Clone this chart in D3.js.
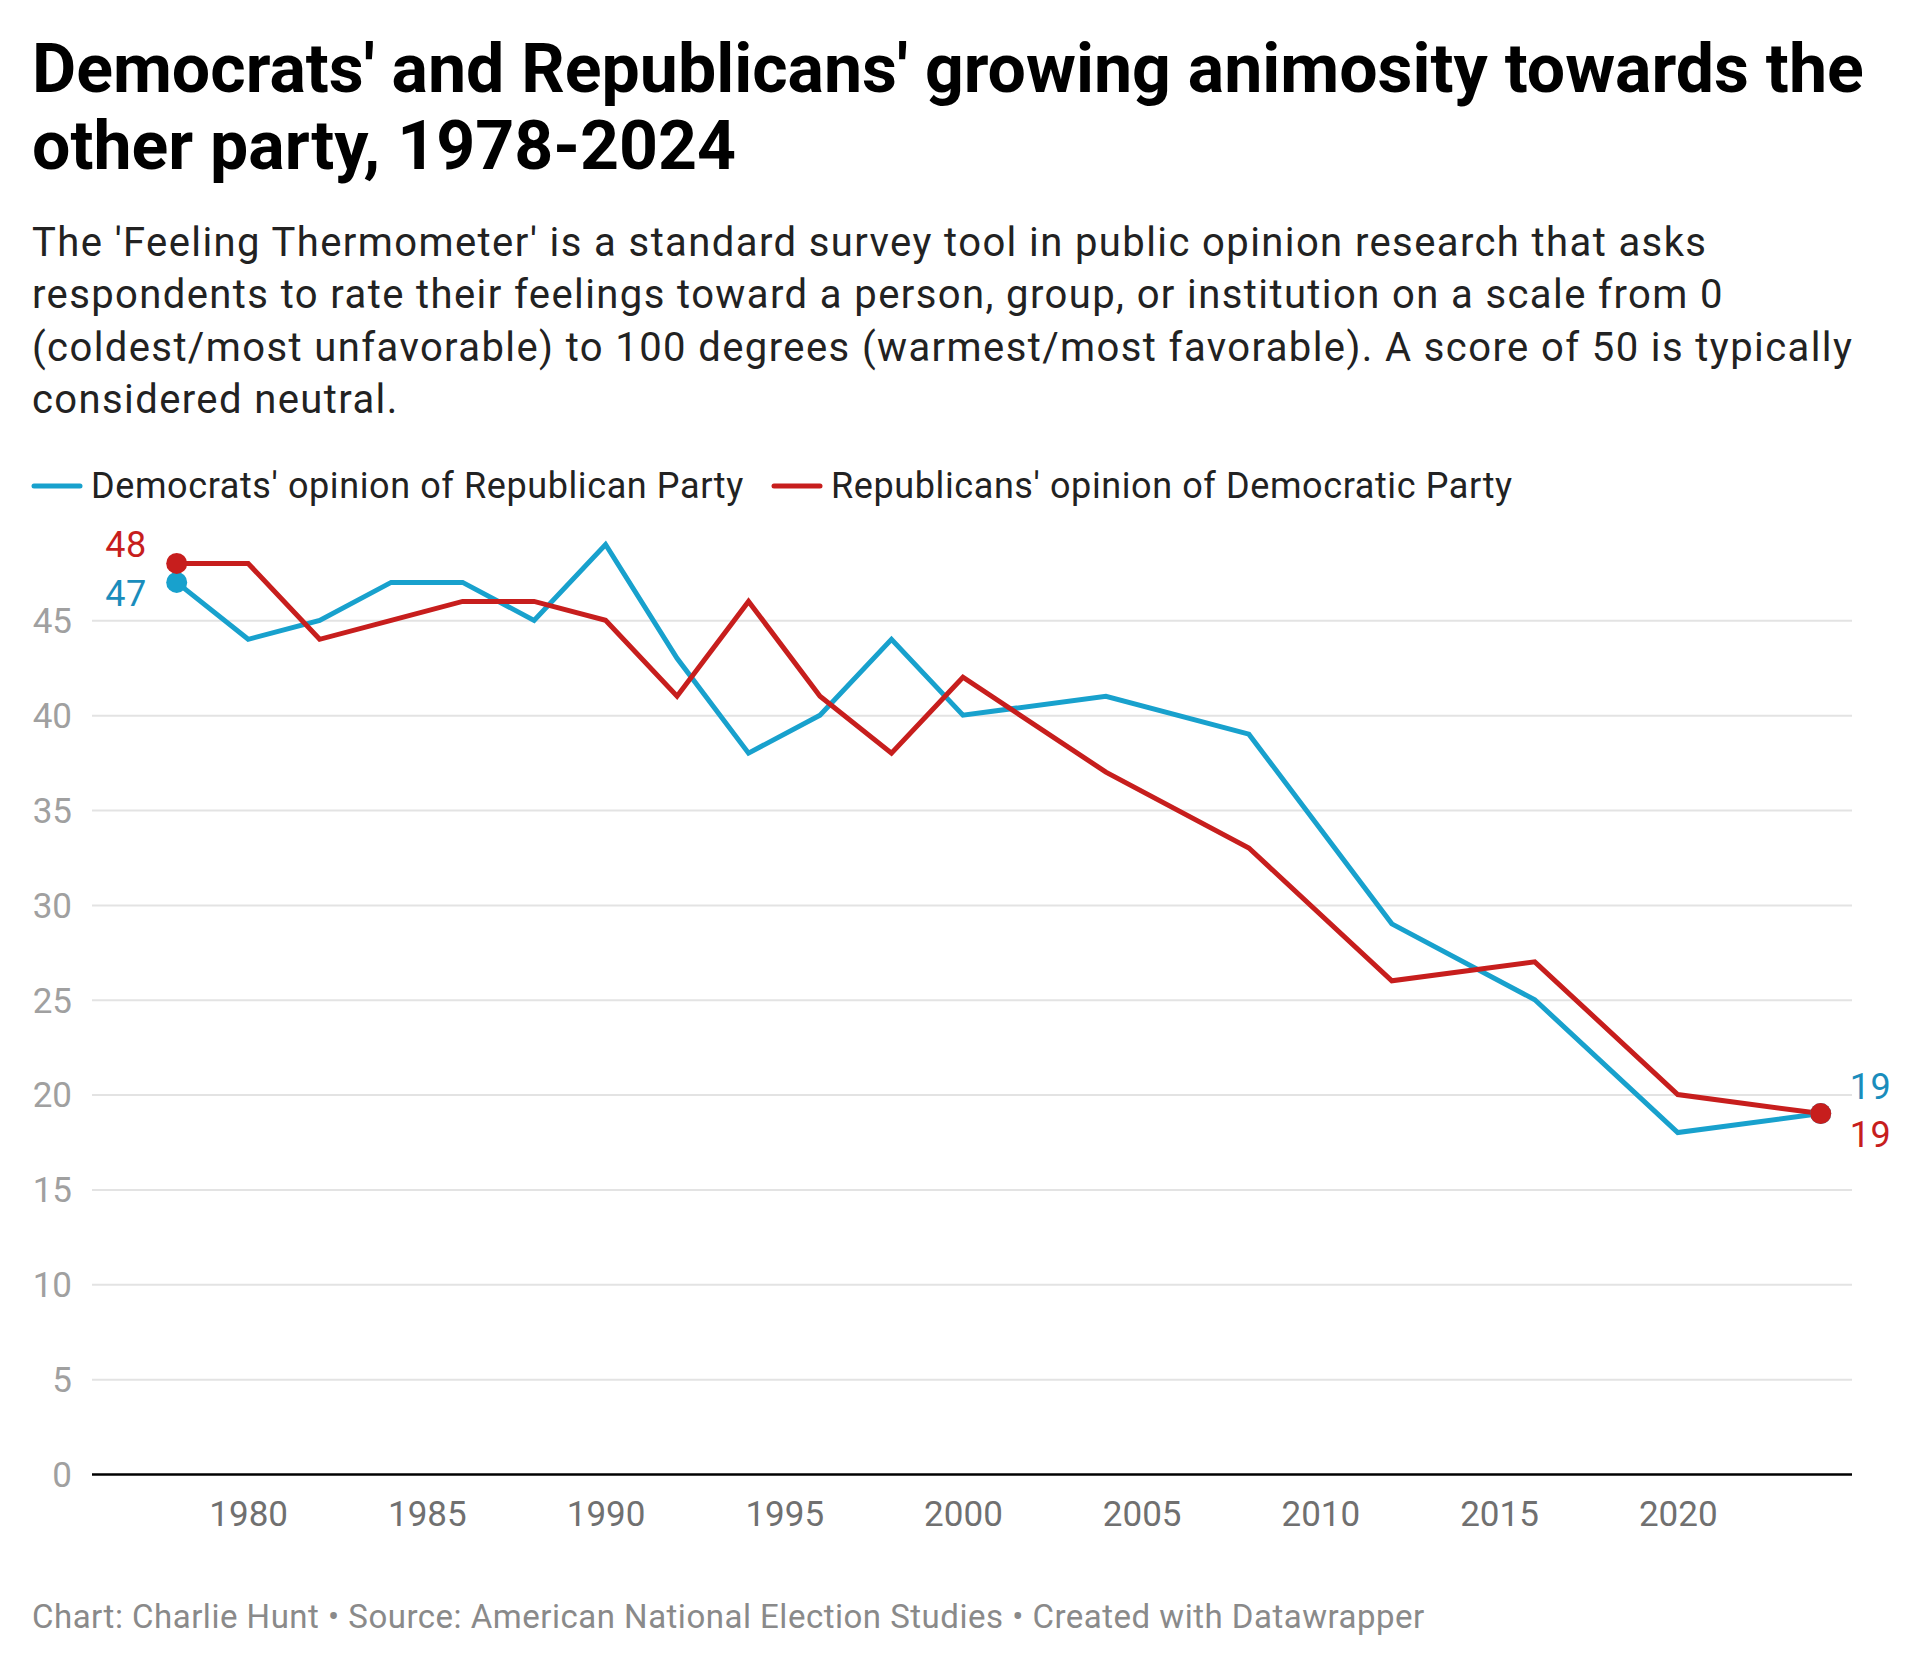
<!DOCTYPE html>
<html>
<head>
<meta charset="utf-8">
<script src="https://cdn.jsdelivr.net/npm/d3@7"></script>
<style>
  body { margin: 0; background: #fff; }
  svg { display: block; font-family: Roboto, "Noto Sans", sans-serif; }
</style>
</head>
<body>
<script>
// data
const years = [1978, 1980, 1982, 1984, 1986, 1988, 1990, 1992, 1994, 1996, 1998, 2000, 2004, 2008, 2012, 2016, 2020, 2024];
const demOfRep = [47, 44, 45, 47, 47, 45, 49, 43, 38, 40, 44, 40, 41, 39, 29, 25, 18, 19];
const repOfDem = [48, 48, 44, 45, 46, 46, 45, 41, 46, 41, 38, 42, 37, 33, 26, 27, 20, 19];
const yTicks = [0, 5, 10, 15, 20, 25, 30, 35, 40, 45];
const xTicks = [1980, 1985, 1990, 1995, 2000, 2005, 2010, 2015, 2020];
const seriesNames = ["Democrats' opinion of Republican Party", "Republicans' opinion of Democratic Party"];

const titleLines = ["Democrats' and Republicans' growing animosity towards the", "other party, 1978-2024"];
const subtitleLines = [
    "The 'Feeling Thermometer' is a standard survey tool in public opinion research that asks",
    "respondents to rate their feelings toward a person, group, or institution on a scale from 0",
    "(coldest/most unfavorable) to 100 degrees (warmest/most favorable). A score of 50 is typically",
    "considered neutral."
];
const footer = "Chart: Charlie Hunt \u2022 Source: American National Election Studies \u2022 Created with Datawrapper";

const blue = "#18a1cd";
const red = "#c71e1d";
const blueText = "#1a8dbc";

const width = 1920, height = 1669;

let svg = d3.select('body')
    .append("svg")
    .attr("width", width)
    .attr("height", height);

svg.append("rect").attr("width", width).attr("height", height).attr("fill", "#fff");

// header
svg.append("g").selectAll("text")
    .data(titleLines)
    .enter()
    .append("text")
    .attr("x", 32)
    .attr("y", (d, i) => 92 + i * 76.5)
    .attr("font-size", 68)
    .attr("font-weight", 700)
    .attr("fill", "#000")
    .text(d => d);

svg.append("g").selectAll("text")
    .data(subtitleLines)
    .enter()
    .append("text")
    .attr("x", 32)
    .attr("y", (d, i) => 256 + i * 52.3)
    .attr("font-size", 40)
    .attr("letter-spacing", 1.4)
    .attr("fill", "#222")
    .text(d => d);

// legend
let legendX = [32, 772];
let legend = svg.append("g").selectAll("g")
    .data(seriesNames)
    .enter()
    .append("g")
    .attr("transform", (d, i) => `translate(${legendX[i]},486)`);
legend.append("line")
    .attr("x1", 2).attr("x2", 48)
    .attr("stroke", (d, i) => i === 0 ? blue : red)
    .attr("stroke-width", 5)
    .attr("stroke-linecap", "round");
legend.append("text")
    .attr("x", 59)
    .attr("y", 11.5)
    .attr("font-size", 36)
    .attr("letter-spacing", 0.6)
    .attr("fill", "#222")
    .text(d => d);

// scales
let x = d3.scaleLinear().domain([1978, 2024]).range([176.7, 1820.7]);
let y = d3.scaleLinear().domain([0, 50]).range([1474, 525.5]);
const plotLeft = 92, plotRight = 1852;

// y grid + labels
let yAxis = svg.append("g")
    .attr("transform", `translate(${plotRight},0)`)
    .call(d3.axisLeft(y).tickValues(yTicks).tickSize(plotRight - plotLeft).tickPadding(20));
yAxis.select(".domain").remove();
yAxis.selectAll(".tick line")
    .attr("stroke", d => d === 0 ? "#000" : "#e3e3e3")
    .attr("stroke-width", d => d === 0 ? 2.5 : 2);
yAxis.selectAll(".tick text")
    .attr("font-size", 35)
    .attr("font-family", "Roboto")
    .attr("fill", "#a0a0a0")
    .attr("dy", "0.35em");
yAxis.selectAll(".tick").filter(d => d === 0).raise();

// x labels
let xAxis = svg.append("g")
    .attr("transform", `translate(0,${y(0)})`)
    .call(d3.axisBottom(x).tickValues(xTicks).tickFormat(d3.format("d")).tickSize(0).tickPadding(27));
xAxis.select(".domain").remove();
xAxis.selectAll(".tick text")
    .attr("font-size", 35)
    .attr("font-family", "Roboto")
    .attr("fill", "#707070");

// lines
let line = d3.line().x(d => x(d.year)).y(d => y(d.value));
let series = [
    { name: seriesNames[0], color: blue, values: years.map((yr, i) => ({ year: yr, value: demOfRep[i] })) },
    { name: seriesNames[1], color: red, values: years.map((yr, i) => ({ year: yr, value: repOfDem[i] })) }
];

svg.append("g").selectAll("path")
    .data(series)
    .enter()
    .append("path")
    .attr("d", d => line(d.values))
    .attr("fill", "none")
    .attr("stroke", d => d.color)
    .attr("stroke-width", 5)
    .attr("stroke-linejoin", "miter");

// end dots
let dots = [];
series.forEach(s => {
    dots.push({ color: s.color, p: s.values[0] });
    dots.push({ color: s.color, p: s.values[s.values.length - 1] });
});
svg.append("g").selectAll("circle")
    .data(dots)
    .enter()
    .append("circle")
    .attr("cx", d => x(d.p.year))
    .attr("cy", d => y(d.p.value))
    .attr("r", 10.5)
    .attr("fill", d => d.color);

// value labels at both ends
let labels = [
    { value: demOfRep[0], year: years[0], color: blueText, side: "start", dy: 24 },
    { value: repOfDem[0], year: years[0], color: red, side: "start", dy: -6.5 },
    { value: demOfRep[demOfRep.length - 1], year: years[years.length - 1], color: blueText, side: "end", dy: -15 },
    { value: repOfDem[repOfDem.length - 1], year: years[years.length - 1], color: red, side: "end", dy: 33 }
];
svg.append("g").selectAll("text")
    .data(labels)
    .enter()
    .append("text")
    .attr("x", d => d.side === "start" ? x(d.year) - 30 : x(d.year) + 29)
    .attr("y", d => y(d.value) + d.dy)
    .attr("text-anchor", d => d.side === "start" ? "end" : "start")
    .attr("font-size", 36)
    .attr("letter-spacing", 0.5)
    .attr("fill", d => d.color)
    .text(d => d.value);

// footer
svg.append("text")
    .attr("x", 32)
    .attr("y", 1628)
    .attr("font-size", 33)
    .attr("letter-spacing", 0.5)
    .attr("fill", "#8a8a8a")
    .text(footer);
</script>
</body>
</html>
